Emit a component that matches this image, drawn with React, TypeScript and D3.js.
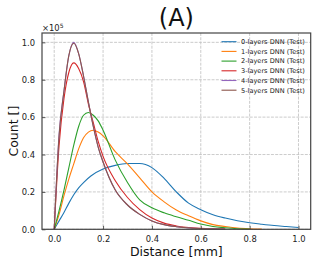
import * as d3 from "d3";
import React from "react";

// distance [mm]
const xs0 = [0, 0.02, 0.04, 0.06, 0.08, 0.1, 0.12, 0.15, 0.2, 0.25, 0.3, 0.35, 0.4, 0.45, 0.5, 0.55, 0.6, 0.65, 0.7, 0.75, 0.8, 0.85, 0.9, 0.95, 1.0];
const counts0 = [0, 0.045, 0.09, 0.14, 0.185, 0.222, 0.25, 0.285, 0.322, 0.342, 0.352, 0.352, 0.33, 0.272, 0.2, 0.14, 0.105, 0.078, 0.06, 0.046, 0.035, 0.027, 0.02, 0.015, 0.01];

const xs1 = [0, 0.02, 0.04, 0.06, 0.08, 0.1, 0.12, 0.14, 0.16, 0.18, 0.2, 0.25, 0.3, 0.35, 0.4, 0.45, 0.5, 0.55, 0.6, 0.65, 0.7, 0.75, 0.8, 0.85];
const counts1 = [0, 0.08, 0.18, 0.27, 0.35, 0.43, 0.49, 0.52, 0.53, 0.52, 0.5, 0.415, 0.35, 0.275, 0.2, 0.147, 0.103, 0.072, 0.045, 0.025, 0.015, 0.007, 0.003, 0.001];

const xs2 = [0, 0.02, 0.04, 0.06, 0.08, 0.1, 0.12, 0.14, 0.16, 0.18, 0.2, 0.25, 0.3, 0.35, 0.4, 0.45, 0.5, 0.55, 0.6, 0.65, 0.7, 0.75, 0.8];
const counts2 = [0, 0.1, 0.21, 0.33, 0.45, 0.55, 0.61, 0.625, 0.61, 0.58, 0.53, 0.37, 0.25, 0.157, 0.115, 0.088, 0.067, 0.048, 0.028, 0.015, 0.008, 0.003, 0.001];

const xs3 = [0, 0.02, 0.04, 0.06, 0.08, 0.1, 0.12, 0.14, 0.16, 0.18, 0.2, 0.25, 0.3, 0.35, 0.4, 0.45, 0.5, 0.6, 0.7];
const counts3 = [0, 0.45, 0.7, 0.84, 0.89, 0.86, 0.79, 0.67, 0.57, 0.47, 0.39, 0.26, 0.17, 0.105, 0.06, 0.033, 0.018, 0.005, 0.001];

const xs4 = [0, 0.02, 0.04, 0.06, 0.08, 0.1, 0.12, 0.14, 0.16, 0.18, 0.2, 0.25, 0.3, 0.35, 0.4, 0.45, 0.5, 0.6, 0.7];
const counts4 = [0, 0.51, 0.74, 0.93, 1.0, 0.94, 0.82, 0.68, 0.55, 0.44, 0.36, 0.21, 0.13, 0.08, 0.045, 0.025, 0.014, 0.004, 0.001];
const counts5 = [0, 0.5, 0.74, 0.93, 0.995, 0.94, 0.82, 0.68, 0.55, 0.44, 0.36, 0.21, 0.13, 0.08, 0.045, 0.025, 0.014, 0.004, 0.001];

const labels = ["0-layers DNN (Test)", "1-layers DNN (Test)", "2-layers DNN (Test)", "3-layers DNN (Test)", "4-layers DNN (Test)", "5-layers DNN (Test)"];
const colors = ["#1f77b4", "#ff7f0e", "#2ca02c", "#d62728", "#9467bd", "#8c564b"];
const xTicks = [0, 0.2, 0.4, 0.6, 0.8, 1.0];
const yTicks = [0, 0.2, 0.4, 0.6, 0.8, 1.0];

const W = 319;
const H = 266;
const margin = { top: 33, right: 8.3, bottom: 36.7, left: 42 };
const font = "DejaVu Sans, sans-serif";

export default function App() {
  const svgRef = React.useRef<SVGSVGElement>(null);

  React.useEffect(() => {
    const svg = d3.select(svgRef.current);
    svg.selectAll("*").remove();

    const series = [
      { xs: xs0, ys: counts0 },
      { xs: xs1, ys: counts1 },
      { xs: xs2, ys: counts2 },
      { xs: xs3, ys: counts3 },
      { xs: xs4, ys: counts4 },
      { xs: xs4, ys: counts5 },
    ];

    const x = d3.scaleLinear().domain([-0.05, 1.05]).range([margin.left, W - margin.right]);
    const y = d3.scaleLinear().domain([0, 1.05]).range([H - margin.bottom, margin.top]);

    svg.append("rect").attr("width", W).attr("height", H).attr("fill", "#fff");

    // grid
    const grid = svg.append("g").attr("stroke", "#b0b0b0").attr("stroke-width", 0.8).attr("stroke-dasharray", "2.96,1.28").attr("opacity", 0.8);
    xTicks.forEach((t) => {
      grid.append("line").attr("x1", x(t)).attr("x2", x(t)).attr("y1", margin.top).attr("y2", H - margin.bottom);
    });
    yTicks.forEach((t) => {
      grid.append("line").attr("y1", y(t)).attr("y2", y(t)).attr("x1", margin.left).attr("x2", W - margin.right);
    });

    // lines
    const line = d3
      .line<[number, number]>()
      .x((d) => x(d[0]))
      .y((d) => y(d[1]))
      .curve(d3.curveMonotoneX);
    series.forEach((s, i) => {
      svg
        .append("path")
        .attr("d", line(s.xs.map((v, j) => [v, s.ys[j]] as [number, number])))
        .attr("fill", "none")
        .attr("stroke", colors[i])
        .attr("stroke-width", 1.1);
    });

    // axes
    const xAxis = svg
      .append("g")
      .attr("transform", `translate(0,${H - margin.bottom})`)
      .call(d3.axisBottom(x).tickValues(xTicks).tickFormat(d3.format(".1f")).tickSizeInner(-3.5).tickSizeOuter(0).tickPadding(7));
    const yAxis = svg
      .append("g")
      .attr("transform", `translate(${margin.left},0)`)
      .call(d3.axisLeft(y).tickValues(yTicks).tickFormat(d3.format(".1f")).tickSizeInner(-3.5).tickSizeOuter(0).tickPadding(7));
    [xAxis, yAxis].forEach((a) => {
      a.select(".domain").remove();
      a.selectAll("text").attr("font-family", font).attr("font-size", 8.4).attr("fill", "#222");
      a.selectAll("line").attr("stroke", "#333").attr("stroke-width", 0.8);
    });

    // frame
    svg
      .append("rect")
      .attr("x", margin.left)
      .attr("y", margin.top)
      .attr("width", W - margin.left - margin.right)
      .attr("height", H - margin.top - margin.bottom)
      .attr("fill", "none")
      .attr("stroke", "#444")
      .attr("stroke-width", 1.2);

    // offset text
    const off = svg.append("text").attr("x", margin.left).attr("y", 31).attr("font-family", font).attr("font-size", 8.4).attr("fill", "#222");
    off.append("tspan").text("×10");
    off.append("tspan").attr("dy", -3.5).attr("font-size", 6).text("5");

    // title and labels
    svg
      .append("text")
      .attr("x", (margin.left + W - margin.right) / 2)
      .attr("y", 26)
      .attr("text-anchor", "middle")
      .attr("font-family", font)
      .attr("font-size", 24)
      .attr("fill", "#111")
      .text("(A)");
    svg
      .append("text")
      .attr("x", (margin.left + W - margin.right) / 2)
      .attr("y", 255.7)
      .attr("text-anchor", "middle")
      .attr("font-family", font)
      .attr("font-size", 12.5)
      .attr("fill", "#111")
      .text("Distance [mm]");
    svg
      .append("text")
      .attr("transform", `translate(17.5,${(margin.top + H - margin.bottom) / 2}) rotate(-90)`)
      .attr("text-anchor", "middle")
      .attr("font-family", font)
      .attr("font-size", 12.5)
      .attr("fill", "#111")
      .text("Count []");

    // legend
    const lg = svg.append("g").attr("transform", "translate(221.5,41.7)");
    labels.forEach((l, i) => {
      const row = lg.append("g").attr("transform", `translate(0,${i * 9.7})`);
      row.append("line").attr("x1", 0).attr("x2", 15).attr("stroke", colors[i]).attr("stroke-width", 1.1);
      row
        .append("text")
        .attr("x", 19.5)
        .attr("dy", "0.35em")
        .attr("font-family", font)
        .attr("font-size", 6.6)
        .attr("fill", "#222")
        .text(l);
    });
  }, []);

  return <svg ref={svgRef} width={W} height={H} style={{ position: "absolute", left: 0, top: 0 }} />;
}
